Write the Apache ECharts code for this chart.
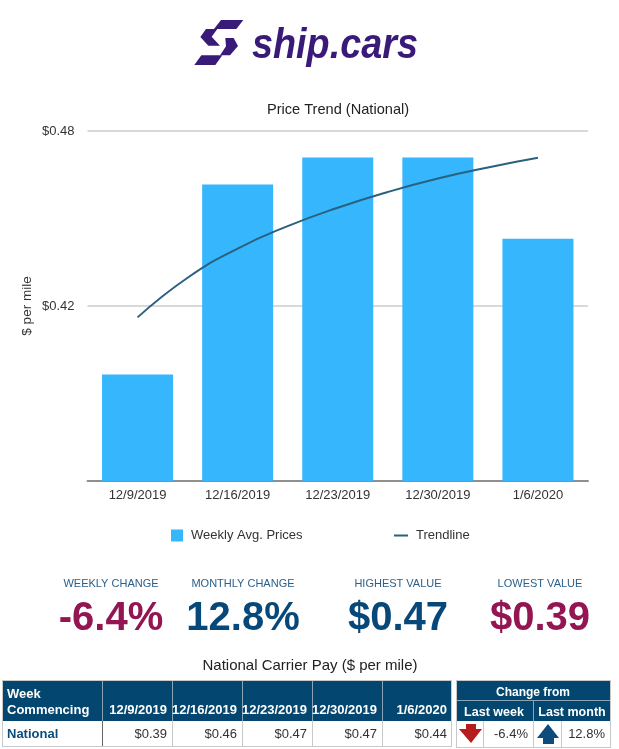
<!DOCTYPE html>
<html>
<head>
<meta charset="utf-8">
<title>Price Trend (National)</title>
<style>html,body{margin:0;padding:0;background:#fff}#chart{width:619px;height:749px}</style>
<script src="https://cdn.jsdelivr.net/npm/echarts@6/dist/echarts.min.js"></script>
</head>
<body>
<div id="chart"></div>
<script>
// Weekly carrier pay, national average
const weeks = ['12/9/2019', '12/16/2019', '12/23/2019', '12/30/2019', '1/6/2020'];
const weeklyPrices = [0.3965, 0.4617, 0.4709, 0.4709, 0.4431];
const axisTicks = { min: 0.36, max: 0.48, step: 0.06 };

// Trendline samples: position along the week axis (0 = first week) and price
const trendPos = [0, 0.5, 1, 1.5, 2, 2.5, 3, 3.5, 4];
const trendPrice = [0.4161, 0.4297, 0.4397, 0.4474, 0.4537, 0.4591, 0.4637, 0.4675, 0.4708];

// Headline figures
const kpiTitles = ['WEEKLY CHANGE', 'MONTHLY CHANGE', 'HIGHEST VALUE', 'LOWEST VALUE'];
const kpiValues = ['-6.4%', '12.8%', '$0.47', '$0.39'];

// Table contents
const tableWeeks = ['12/9/2019', '12/16/2019', '12/23/2019', '12/30/2019', '1/6/2020'];
const tablePrices = ['$0.39', '$0.46', '$0.47', '$0.47', '$0.44'];
const changeWeek = '-6.4%';
const changeMonth = '12.8%';

const FONT = '"Liberation Sans", Arial, sans-serif';
const NAVY = '#03466f';
const BORDER = '#c9c9c9';
const INK = '#333333';

const els = [];
const rect = (x, y, w, h, fill, z) => els.push({ type: 'rect', z: z || 1, shape: { x, y, width: w, height: h }, style: { fill } });
const text = (s, x, y, size, fill, align, weight) => els.push({
  type: 'text', z: 5, x, y,
  style: { text: s, fill, textAlign: align || 'center', textVerticalAlign: 'middle', font: `${weight || 'normal'} ${size}px ${FONT}` }
});
const poly = (pts, fill) => els.push({ type: 'polygon', z: 5, shape: { points: pts }, style: { fill } });

// Logo mark, laid out on a 3x grid from its top-left corner
const PURPLE = '#3a1a78';
const mark = pts => pts.map(p => [190 + p[0] / 3, 10 + p[1] / 3]);
poly(mark([[93, 30], [160, 30], [139, 57], [72, 57]]), PURPLE);
poly(mark([[48, 57], [82, 57], [65, 80], [90, 107], [55, 107], [31, 81]]), PURPLE);
poly(mark([[106, 84], [131, 84], [144, 108], [120, 136], [90, 136], [108, 109]]), PURPLE);
poly(mark([[34, 136], [97, 136], [76, 165], [13, 165]]), PURPLE);
els.push({
  type: 'text', z: 5, x: 252, y: 67, scaleX: 0.9,
  style: { text: 'ship.cars', fill: PURPLE, textAlign: 'left', textVerticalAlign: 'bottom', font: `italic bold 42px ${FONT}` }
});

// Headline figures
const kpiX = [111, 243, 398, 540];
const kpiColors = ['#931653', '#06487a', '#06487a', '#931653'];
kpiTitles.forEach((t, i) => {
  text(t, kpiX[i], 584, 11, '#2a5f8a');
  text(kpiValues[i], kpiX[i], 619, 40, kpiColors[i], 'center', 'bold');
});

text('National Carrier Pay ($ per mile)', 310, 666, 15, '#222222');

// Left table
const colEdges = [2, 102, 172, 242, 312, 382, 452];
const headTop = 681, headBottom = 721, rowBottom = 746;
rect(colEdges[0], headTop - 1, colEdges[6] - colEdges[0], rowBottom - headTop + 2, BORDER, 0);
rect(colEdges[0] + 1, headTop, colEdges[6] - colEdges[0] - 2, headBottom - headTop, NAVY);
rect(colEdges[0] + 1, headBottom, colEdges[6] - colEdges[0] - 2, rowBottom - headBottom, '#ffffff');
for (let i = 1; i < 6; i++) {
  rect(colEdges[i], headTop, 1, headBottom - headTop, '#8aa4b8', 2);
  rect(colEdges[i], headBottom, 1, rowBottom - headBottom, i === 1 ? '#666666' : BORDER, 2);
}
text('Week', 7, 694, 13, '#ffffff', 'left', 'bold');
text('Commencing', 7, 710, 13, '#ffffff', 'left', 'bold');
text('National', 7, 734, 13, '#0a4c7c', 'left', 'bold');
tableWeeks.forEach((w, i) => {
  text(w, colEdges[i + 2] - 5, 710, 13, '#ffffff', 'right', 'bold');
  text(tablePrices[i], colEdges[i + 2] - 5, 734, 13, INK, 'right');
});

// Right table
const rx0 = 456, rx1 = 611, rMid = 533, rA = 483, rB = 561;
const rBottom = 747;
rect(rx0, headTop - 1, rx1 - rx0, rBottom - headTop + 2, BORDER, 0);
rect(rx0 + 1, headTop, rx1 - rx0 - 2, headBottom - headTop, NAVY);
rect(rx0 + 1, headBottom, rx1 - rx0 - 2, rBottom - headBottom, '#ffffff');
rect(rx0 + 1, 700, rx1 - rx0 - 2, 1, '#8aa4b8', 2);
rect(rMid, 701, 1, 20, '#8aa4b8', 2);
[rA, rMid, rB].forEach(x => rect(x, headBottom, 1, rBottom - headBottom, BORDER, 2));
text('Change from', 533, 693, 12, '#ffffff', 'center', 'bold');
text('Last week', 494, 713, 12.5, '#ffffff', 'center', 'bold');
text('Last month', 572, 713, 12.5, '#ffffff', 'center', 'bold');
text(changeWeek, 528, 734, 13, INK, 'right');
text(changeMonth, 605, 734, 13, INK, 'right');
poly([[466, 724], [476, 724], [476, 729], [482, 729], [471, 743], [459, 729], [466, 729]], '#b71c1c');
poly([[548, 724], [559, 738], [554, 738], [554, 744], [543, 744], [543, 738], [537, 738]], '#0d4b7d');

const chart = echarts.init(document.getElementById('chart'), null, { renderer: 'canvas' });
chart.setOption({
  animation: false,
  backgroundColor: '#ffffff',
  textStyle: { fontFamily: FONT },
  title: {
    text: 'Price Trend (National)', left: 333, top: 97, textAlign: 'center',
    textStyle: { fontFamily: FONT, fontSize: 14.6, fontWeight: 'normal', color: '#222222' }
  },
  grid: { left: 87.5, top: 131, width: 500.5, height: 350 },
  legend: [
    {
      data: ['Weekly Avg. Prices'], left: 166, top: 524, itemWidth: 12, itemHeight: 12,
      icon: 'rect', textStyle: { fontFamily: FONT, fontSize: 13, color: INK, padding: [0, 0, 0, 3] }
    },
    {
      data: ['Trendline'], left: 389, top: 524, itemWidth: 14, itemHeight: 2, icon: 'rect',
      textStyle: { fontFamily: FONT, fontSize: 13, color: INK, padding: [0, 0, 0, 3] }
    }
  ],
  xAxis: [
    {
      type: 'category', data: weeks,
      axisLine: { lineStyle: { color: '#8f8f8f', width: 2 } },
      axisTick: { show: false },
      axisLabel: { fontFamily: FONT, fontSize: 13, color: INK, margin: 8, interval: 0 }
    },
    { type: 'value', min: -0.5, max: 4.5, show: false }
  ],
  yAxis: {
    type: 'value', min: axisTicks.min, max: axisTicks.max, interval: axisTicks.step,
    name: '$ per mile', nameLocation: 'middle', nameGap: 53, nameRotate: 90, nameMoveOverlap: false,
    nameTextStyle: { fontFamily: FONT, fontSize: 13.5, color: INK },
    axisLine: { show: false }, axisTick: { show: false },
    axisLabel: {
      fontFamily: FONT, fontSize: 13, color: INK, margin: 13,
      formatter: v => (v < axisTicks.min + 0.01 ? '' : '$' + v.toFixed(2))
    },
    splitLine: { lineStyle: { color: '#d9d9d9', width: 2 } }
  },
  series: [
    {
      name: 'Weekly Avg. Prices', type: 'bar', data: weeklyPrices,
      barWidth: 71, itemStyle: { color: '#35b6fd' }, xAxisIndex: 0
    },
    {
      name: 'Trendline', type: 'line', xAxisIndex: 1, smooth: true, symbol: 'none', z: 5,
      data: trendPos.map((p, i) => [p, trendPrice[i]]),
      lineStyle: { color: '#2a617f', width: 2 }, itemStyle: { color: '#2a617f' }
    }
  ],
  graphic: { elements: els }
});
</script>
</body>
</html>
